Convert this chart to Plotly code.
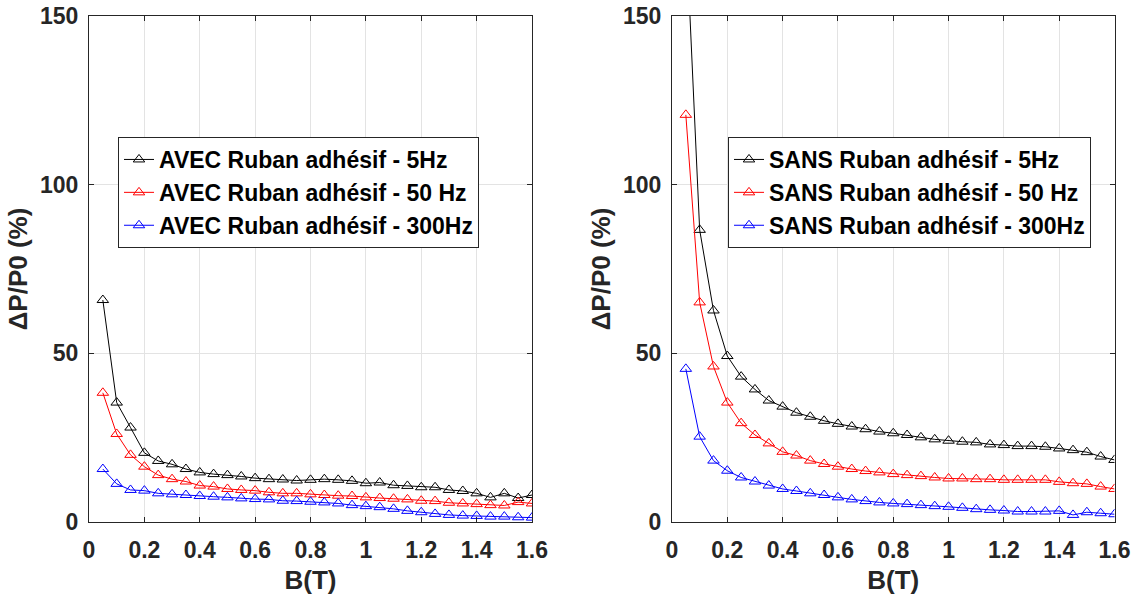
import plotly.graph_objects as go

B = [0.05, 0.10, 0.15, 0.20, 0.25, 0.30, 0.35, 0.40, 0.45, 0.50, 0.55, 0.60, 0.65, 0.70, 0.75, 0.80,
     0.85, 0.90, 0.95, 1.00, 1.05, 1.10, 1.15, 1.20, 1.25, 1.30, 1.35, 1.40, 1.45, 1.50, 1.55, 1.60]

# AVEC Ruban adhésif
avec_5hz = [65.8, 35.4, 28.0, 20.5, 18.1, 17.1, 15.7, 14.7, 14.2, 13.9, 13.5, 13.0, 12.7, 12.6, 12.3, 12.5,
            12.7, 12.5, 12.2, 11.5, 11.7, 10.9, 10.7, 10.3, 10.3, 9.5, 9.2, 8.5, 7.3, 8.5, 7.1, 8.0]
avec_50hz = [38.3, 26.1, 19.9, 16.4, 13.9, 12.7, 12.0, 10.8, 10.5, 9.8, 9.5, 9.3, 8.8, 8.5, 8.5, 8.2,
             8.0, 7.8, 7.7, 7.3, 7.1, 6.9, 6.7, 6.3, 6.2, 5.7, 5.5, 5.3, 5.0, 4.9, 5.9, 5.5]
avec_300hz = [15.7, 11.3, 9.5, 9.3, 8.5, 8.2, 8.0, 7.7, 7.5, 7.3, 7.0, 6.8, 6.7, 6.3, 6.2, 6.0,
              5.8, 5.5, 5.0, 4.7, 4.4, 3.9, 3.3, 2.9, 2.4, 2.1, 1.9, 1.8, 1.6, 1.6, 1.4, 1.3]

# SANS Ruban adhésif
sans_5hz = [177.0, 86.6, 62.7, 49.2, 43.1, 39.3, 36.0, 34.2, 32.4, 31.2, 30.0, 29.1, 28.3, 27.5, 26.8, 26.3,
            25.8, 25.1, 24.5, 24.1, 23.8, 23.6, 23.0, 22.8, 22.5, 22.5, 22.3, 21.8, 21.3, 20.7, 19.4, 18.4]
sans_50hz = [120.7, 65.1, 46.1, 35.4, 29.3, 25.8, 23.3, 20.8, 19.7, 18.2, 17.2, 16.4, 15.7, 15.1, 14.7, 14.2,
             13.9, 13.6, 13.2, 12.9, 12.9, 12.7, 12.7, 12.5, 12.5, 12.5, 12.5, 11.9, 11.5, 11.3, 10.5, 9.8]
sans_300hz = [45.4, 25.3, 18.2, 15.2, 13.2, 12.0, 10.8, 9.8, 9.2, 8.5, 8.0, 7.3, 6.7, 6.2, 5.8, 5.5,
              5.3, 5.0, 4.7, 4.5, 4.2, 3.8, 3.6, 3.4, 3.1, 3.1, 3.1, 3.3, 2.1, 2.9, 2.6, 2.3]

names_left = ["AVEC Ruban adhésif - 5Hz", "AVEC Ruban adhésif - 50 Hz", "AVEC Ruban adhésif - 300Hz"]
names_right = ["SANS Ruban adhésif - 5Hz", "SANS Ruban adhésif - 50 Hz", "SANS Ruban adhésif - 300Hz"]
colors = ["#000000", "#ff0000", "#0000ff"]

x_ticks = [0, 0.2, 0.4, 0.6, 0.8, 1, 1.2, 1.4, 1.6]
x_ticktext = ["0", "0.2", "0.4", "0.6", "0.8", "1", "1.2", "1.4", "1.6"]
y_ticks = [0, 50, 100, 150]

FONT = "Liberation Sans"
AX = "#262626"

fig = go.Figure()
for ys, nm, c in zip([avec_5hz, avec_50hz, avec_300hz], names_left, colors):
    fig.add_trace(go.Scatter(x=B, y=ys, name=nm, mode="lines+markers",
                             line=dict(color=c, width=1),
                             marker=dict(symbol="triangle-up-open", size=10, color=c, line=dict(width=1, color=c)),
                             xaxis="x", yaxis="y", legend="legend"))
for ys, nm, c in zip([sans_5hz, sans_50hz, sans_300hz], names_right, colors):
    fig.add_trace(go.Scatter(x=B, y=ys, name=nm, mode="lines+markers",
                             line=dict(color=c, width=1),
                             marker=dict(symbol="triangle-up-open", size=10, color=c, line=dict(width=1, color=c)),
                             xaxis="x2", yaxis="y2", legend="legend2"))

W, H = 1137, 597
def px_x(p):
    return p / W
def px_y(p):
    return 1 - p / H

xd1 = [px_x(89), px_x(532)]
xd2 = [px_x(672), px_x(1114.5)]
yd = [px_y(522), px_y(16)]

def xaxis(domain, anchor):
    return dict(domain=domain, anchor=anchor, range=[0, 1.6], tickvals=x_ticks, ticktext=x_ticktext,
                automargin=False, ticklabelstandoff=7, ticklabeloverflow="allow",
                showline=True, linecolor=AX, linewidth=1, mirror="ticks", ticks="inside", ticklen=5,
                tickcolor=AX, showgrid=True, gridcolor="#e3e3e3", gridwidth=1, zeroline=False,
                tickfont=dict(family=FONT, size=23, color=AX, weight="bold"),
                title=dict(text="B(T)", font=dict(family=FONT, size=26, color=AX, weight="bold"), standoff=9))

def yaxis(domain, anchor):
    return dict(domain=domain, anchor=anchor, range=[0, 150], tickvals=y_ticks,
                automargin=False, ticklabelstandoff=5, ticklabeloverflow="allow",
                showline=True, linecolor=AX, linewidth=1, mirror="ticks", ticks="inside", ticklen=5,
                tickcolor=AX, showgrid=True, gridcolor="#e3e3e3", gridwidth=1, zeroline=False,
                tickfont=dict(family=FONT, size=23, color=AX, weight="bold"),
                title=dict(text="ΔP/P0 (%)", font=dict(family=FONT, size=26, color=AX, weight="bold"), standoff=4))

legend_common = dict(xanchor="left", yanchor="top", bgcolor="white", bordercolor=AX, borderwidth=1,
                     font=dict(family=FONT, size=23, color="#000000", weight="bold"), tracegroupgap=0)

fig.update_layout(
    width=W, height=H,
    margin=dict(l=0, r=0, t=0, b=0),
    paper_bgcolor="white", plot_bgcolor="white",
    font=dict(family=FONT, color=AX),
    xaxis=xaxis(xd1, "y"), yaxis=yaxis(yd, "x"),
    xaxis2=xaxis(xd2, "y2"), yaxis2=yaxis(yd, "x2"),
    legend=dict(x=px_x(118), y=px_y(137), **legend_common),
    legend2=dict(x=px_x(728), y=px_y(137), **legend_common),
)

# remove the page's default body margin so the figure fills the window exactly
fig.write_html("out.html", config={"displayModeBar": False},
               post_script="document.body.style.margin='0';document.body.style.overflow='hidden';")
